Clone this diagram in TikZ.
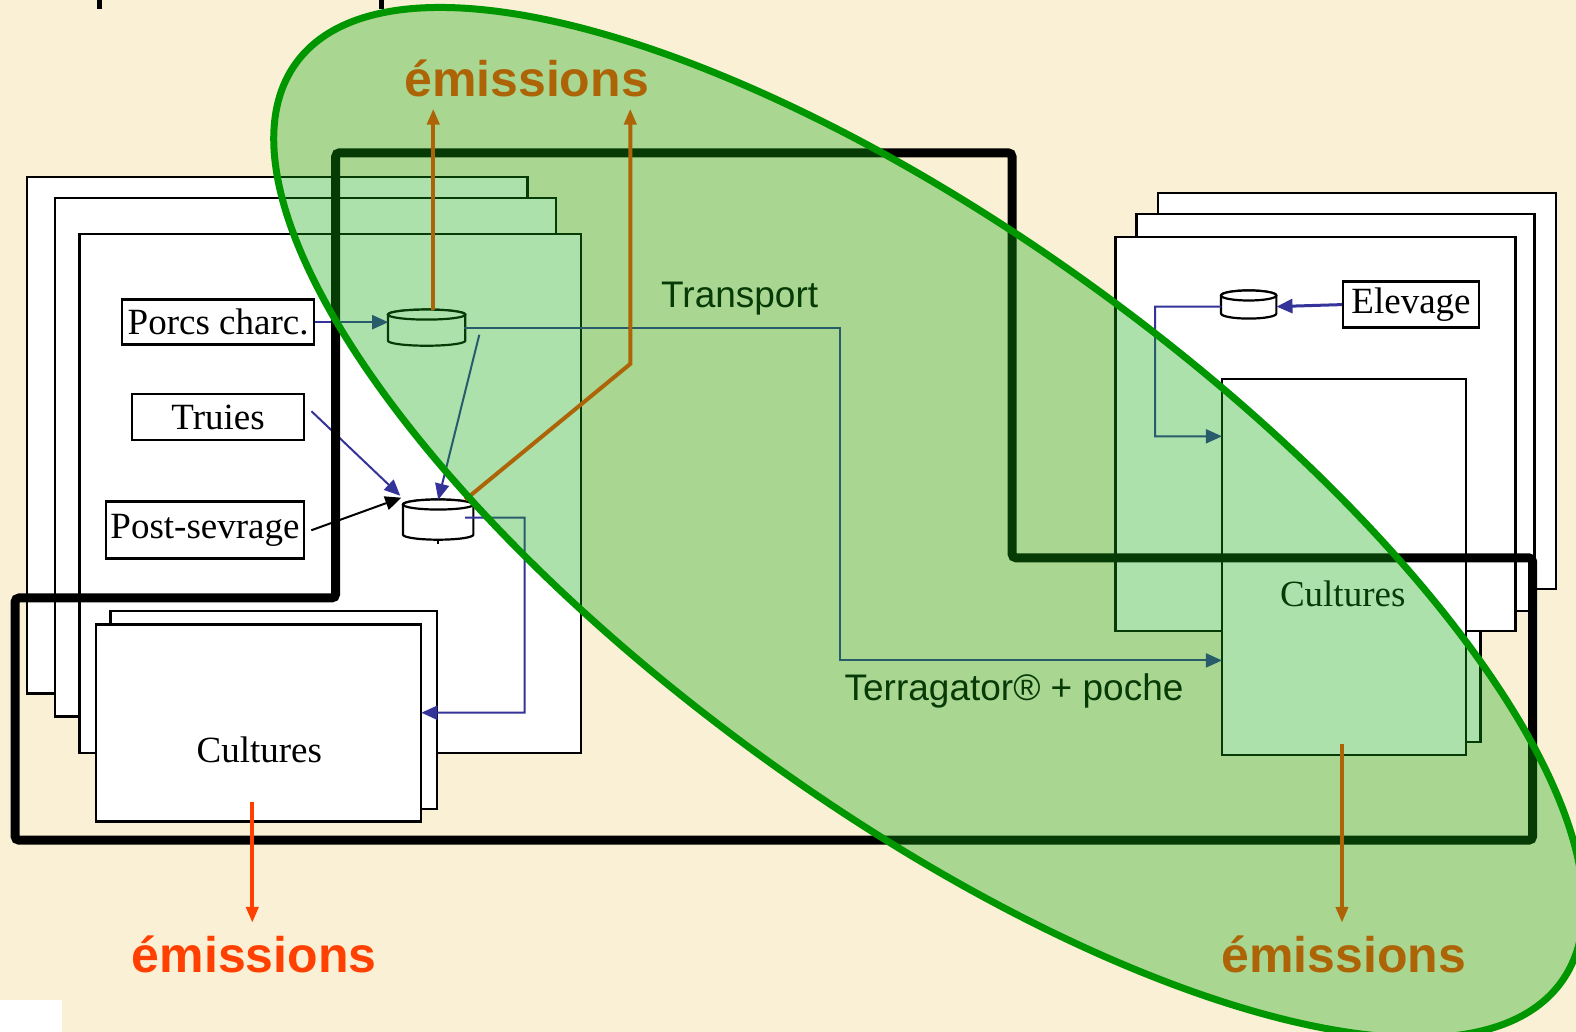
\documentclass[tikz,border=0pt]{standalone}
\usepackage{fontspec}
\setmainfont{Liberation Serif}
\setsansfont{Liberation Sans}
\usetikzlibrary{arrows.meta}
\definecolor{bgbeige}{RGB}{250,240,214}
\definecolor{navy}{RGB}{51,51,153}
\definecolor{emred}{RGB}{255,64,0}
\definecolor{elgreen}{RGB}{0,150,0}
\definecolor{elfill}{RGB}{20,170,20}
\begin{document}
\begin{tikzpicture}[x=0.5pt,y=-0.5pt,scale=1.005,
  sheet/.style={draw=black,line width=1.2pt,fill=white},
  tbox/.style={draw=black,line width=1.2pt,fill=white,inner sep=0pt,font=\fontsize{18.5}{20}\selectfont},
  anchorbox/.style={inner sep=0pt,outer sep=0pt},
  cyl/.style={draw=black,line width=1.1pt,fill=white},
  bluearr/.style={draw=navy,line width=1pt,-{Triangle[length=8pt,width=7pt]}},
  blackarr/.style={draw=black,line width=1pt,-{Triangle[length=8pt,width=7pt]}},
  orarr/.style={draw=emred,line width=2pt,-{Triangle[length=8pt,width=6pt]}},
  emtext/.style={text=emred,inner sep=0pt,font=\sffamily\bfseries\fontsize{25}{28}\selectfont},
  lbl/.style={inner sep=0pt,font=\sffamily\fontsize{18.5}{20}\selectfont},
  serlbl/.style={inner sep=0pt,font=\fontsize{18.5}{20}\selectfont},
  boundary/.style={draw=black,line width=4.5pt,rounded corners=2pt},
]
\useasboundingbox (0,0) rectangle (1568.16,1025.87);
\clip (0,0) rectangle (1568.16,1025.87);
\fill[bgbeige] (-10,-10) rectangle (1600,1100);
\fill[white] (0,995) rectangle (62,1100);
% cut-off title descenders
\fill[black] (97,-5) rectangle (101,9);
\fill[black] (377,-5) rectangle (382,9);

% left stack of sheets
\draw[sheet] (27,176) rectangle (525,690);
\draw[sheet] (55,197) rectangle (553,713);
\draw[sheet] (79,233) rectangle (578,749);

\node[tbox,minimum width=96pt,minimum height=22.5pt] (porcs) at (217,320.5) {Porcs charc.};
\node[tbox,minimum width=86pt,minimum height=23pt] (truies) at (217,415) {Truies};
\node[tbox,minimum width=99pt,minimum height=28.5pt] (post) at (204,527.5) {Post-sevrage};

% left cultures
\draw[sheet] (110,608) rectangle (435,805);
\node[sheet,anchorbox,minimum width=162.5pt,minimum height=98.5pt] (cultL) at (257.5,719.5) {};
\node[serlbl] (cultLtxt) at (258,746) {Cultures};

% right stack
\draw[sheet] (1152,192) rectangle (1548,586);
\draw[sheet] (1131,213) rectangle (1527,608);
\draw[sheet] (1230,362) rectangle (1473,738);
\draw[sheet] (1110,236) rectangle (1508,628);
\node[tbox,minimum width=68pt,minimum height=23pt] (elev) at (1404,303) {Elevage};
\node[sheet,anchorbox,minimum width=122pt,minimum height=188pt] (cultR) at (1337,564) {};
\node[serlbl] (cultRtxt) at (1336,591) {Cultures};

% cylinders
\node[anchorbox,minimum width=38.5pt,minimum height=18pt] (cylA) at (424.5,326) {};
\filldraw[cyl] (386,313) -- (386,339) arc[start angle=180,end angle=360,x radius=19.25pt,y radius=2.5pt] -- (463,313) arc[start angle=0,end angle=180,x radius=19.25pt,y radius=2.5pt] -- cycle;
\draw[cyl] (424.5,313) ellipse[x radius=19.25pt,y radius=2.5pt];

\node[anchorbox,minimum width=35pt,minimum height=20pt] (cylB) at (436,517) {};
\filldraw[cyl] (401,502) -- (401,532) arc[start angle=180,end angle=360,x radius=17.5pt,y radius=2.5pt] -- (471,502) arc[start angle=0,end angle=180,x radius=17.5pt,y radius=2.5pt] -- cycle;
\draw[cyl] (436,502) ellipse[x radius=17.5pt,y radius=2.5pt];
\draw[black,line width=0.8pt] (436,537) -- (436,541);

\node[anchorbox,minimum width=27.5pt,minimum height=14pt] (cylC) at (1242.5,303) {};
\filldraw[cyl] (1215,294) -- (1215,312) arc[start angle=180,end angle=360,x radius=13.75pt,y radius=2.5pt] -- (1270,294) arc[start angle=0,end angle=180,x radius=13.75pt,y radius=2.5pt] -- cycle;
\draw[cyl] (1242.5,294) ellipse[x radius=13.75pt,y radius=2.5pt];

% blue connectors
\draw[bluearr] (porcs.east) -- (porcs.east -| cylA.west);
\draw[bluearr] ([xshift=3pt,yshift=3pt]truies.east) -- ([xshift=-1.5pt,yshift=2pt]cylB.north west);
\draw[blackarr] ([xshift=3pt]post.east) -- ([xshift=-1pt,yshift=1pt]cylB.north west);
\draw[bluearr] ([xshift=7pt,yshift=-3.5pt]cylA.east) -- (cylB.north);
\coordinate (bendT) at (836,326);
\draw[bluearr] ([xshift=-0.5pt]cylA.east) -- (bendT) |- ([yshift=-46.5pt]cultR.west);
\coordinate (bendB) at (522,515);
\draw[bluearr] ([xshift=-4pt,yshift=1pt]cylB.east) -- (bendB) |- ([yshift=5.25pt]cultL.east);
\draw[draw=navy,line width=1.5pt,-{Triangle[length=8pt,width=7pt]}] (elev.west) -- ([yshift=-1pt]cylC.east);
\coordinate (bendC) at (1149,305);
\draw[bluearr] ([yshift=-1pt]cylC.west) -- (bendC) |- ([yshift=65pt]cultR.west);

% system boundary
\draw[boundary] (334,152) -- (1007,152) -- (1007,555) -- (1525,555) -- (1525,836) -- (15,836) -- (15,595) -- (334,595) -- cycle;

% emissions
\node[emtext] (emT) at (524,78) {émissions};
\node[emtext] (emL) at (253,950) {émissions};
\node[emtext] (emR) at (1337,950) {émissions};
\coordinate (arrA) at (431,108);
\coordinate (arrB) at (627,108);
\coordinate (bendO) at (627,362);
\coordinate (oL1) at (251,798);
\coordinate (oL2) at (251,918);
\coordinate (oR1) at (1335,740);
\coordinate (oR2) at (1335,918);
\draw[orarr] (cylA.north -| arrA) -- (arrA);
\draw[orarr] ([xshift=-4pt]cylB.north east) -- (bendO) -- (arrB);
\draw[orarr] (oL1) -- (oL2);
\draw[orarr] (oR1) -- (oR2);

% labels
\node[lbl] (trans) at (736,297) {Transport};
\node[lbl] (terra) at (1009,687) {Terragator® + poche};

% green ellipse overlay
\begin{scope}[shift={(924,520)},rotate=-36]
\draw[draw=elgreen,line width=3.5pt,fill=elfill,fill opacity=0.35] (0,0) ellipse[x radius=389pt,y radius=143pt];
\end{scope}
\end{tikzpicture}
\end{document}
